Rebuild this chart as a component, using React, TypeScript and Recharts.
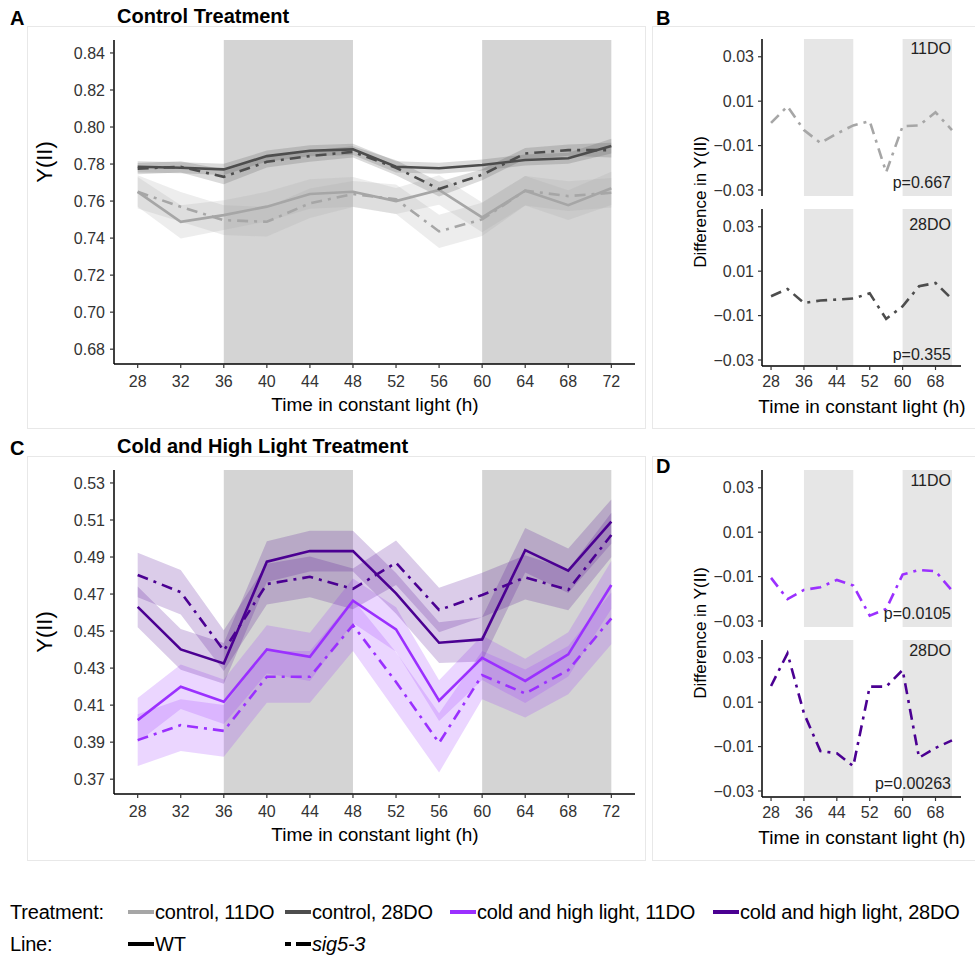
import React from "react";
import { ComposedChart, LineChart, Line, Area, XAxis, YAxis, ReferenceArea } from "recharts";

const hours = [28, 32, 36, 40, 44, 48, 52, 56, 60, 64, 68, 72];
const mainTicksX = [28, 32, 36, 40, 44, 48, 52, 56, 60, 64, 68, 72];
const diffTicksX = [28, 36, 44, 52, 60, 68];
const ctlTicksY = [0.68, 0.7, 0.72, 0.74, 0.76, 0.78, 0.8, 0.82, 0.84];
const coldTicksY = [0.37, 0.39, 0.41, 0.43, 0.45, 0.47, 0.49, 0.51, 0.53];
const diffTicksY = [-0.03, -0.01, 0.01, 0.03];

// control treatment, mean Y(II) and ribbon half-width
const ctl11WT = [0.765, 0.7488, 0.7524, 0.757, 0.7638, 0.765, 0.76, 0.766, 0.7512, 0.7656, 0.7578, 0.7669];
const ctl11WTse = [0.008, 0.009, 0.008, 0.008, 0.008, 0.008, 0.007, 0.008, 0.008, 0.008, 0.008, 0.009];
const ctl11Sig = [0.765, 0.7569, 0.7497, 0.7488, 0.7588, 0.7638, 0.761, 0.7436, 0.7501, 0.7656, 0.7627, 0.7645];
const ctl11SigSe = [0.009, 0.008, 0.008, 0.008, 0.008, 0.007, 0.008, 0.009, 0.009, 0.008, 0.008, 0.008];
const ctl28WT = [0.7785, 0.778, 0.7771, 0.7843, 0.7872, 0.7879, 0.7785, 0.7777, 0.7795, 0.7822, 0.7831, 0.7897];
const ctl28WTse = [0.003, 0.003, 0.003, 0.003, 0.003, 0.003, 0.003, 0.003, 0.003, 0.003, 0.003, 0.004];
const ctl28Sig = [0.7775, 0.7785, 0.7731, 0.7812, 0.7843, 0.7866, 0.778, 0.7665, 0.7742, 0.7857, 0.7875, 0.7875];
const ctl28SigSe = [0.003, 0.003, 0.004, 0.003, 0.003, 0.003, 0.004, 0.004, 0.003, 0.003, 0.003, 0.004];

// cold and high light treatment
const cold11WT = [0.4019, 0.4199, 0.4118, 0.4401, 0.4361, 0.4664, 0.4509, 0.4124, 0.4356, 0.4231, 0.4374, 0.4749];
const cold11WTse = [0.012, 0.012, 0.012, 0.013, 0.013, 0.012, 0.012, 0.011, 0.012, 0.012, 0.012, 0.013];
const cold11Sig = [0.3911, 0.3992, 0.3961, 0.4253, 0.4253, 0.4532, 0.4225, 0.3896, 0.4262, 0.4163, 0.4289, 0.4569];
const cold11SigSe = [0.014, 0.014, 0.014, 0.014, 0.014, 0.014, 0.016, 0.016, 0.013, 0.013, 0.013, 0.014];
const cold28WT = [0.4631, 0.4401, 0.4325, 0.4875, 0.4932, 0.4932, 0.4704, 0.4437, 0.4455, 0.4937, 0.4826, 0.5091];
const cold28WTse = [0.011, 0.011, 0.011, 0.011, 0.011, 0.011, 0.011, 0.011, 0.012, 0.012, 0.012, 0.012];
const cold28Sig = [0.4803, 0.471, 0.4395, 0.4754, 0.4793, 0.4728, 0.4869, 0.4614, 0.4695, 0.479, 0.4722, 0.5019];
const cold28SigSe = [0.012, 0.012, 0.011, 0.011, 0.011, 0.011, 0.012, 0.012, 0.012, 0.012, 0.011, 0.012];

// difference sig5-3 minus WT
const diffCtl11 = [0.0002, 0.0077, -0.003, -0.0088, -0.0046, -0.0009, 0.001, -0.022, -0.0013, -0.0009, 0.005, -0.003];
const diffCtl28 = [-0.0013, 0.002, -0.0043, -0.0032, -0.0028, -0.0023, 0.0, -0.0115, -0.0058, 0.0032, 0.0047, -0.0025];
const diffCold11 = [-0.0106, -0.0201, -0.016, -0.0148, -0.0115, -0.014, -0.0276, -0.0246, -0.0091, -0.007, -0.0076, -0.0163];
const diffCold28 = [0.0173, 0.032, 0.005, -0.012, -0.013, -0.0188, 0.017, 0.017, 0.0245, -0.015, -0.0106, -0.0072];

const C11 = "#a6a6a6";
const C28 = "#4d4d4d";
const P11 = "#9b30ff";
const P28 = "#4b0092";
const DASH = "11 6 3 6";
const FONT = "'Liberation Sans', Arial, sans-serif";

type Series = { mean: number[]; se: number[]; color: string; dash?: string };

const tickStyle = { fontSize: 16, fill: "#333", fontFamily: FONT };

function MainPanel({ top, series, domain, ticks }: { top: number; series: Series[]; domain: [number, number]; ticks: number[] }) {
  const rows = hours.map((h, i) => {
    const r: any = { h };
    series.forEach((s, k) => {
      r["m" + k] = s.mean[i];
      r["r" + k] = [s.mean[i] - s.se[i], s.mean[i] + s.se[i]];
    });
    return r;
  });
  return (
    <div style={{ position: "absolute", left: 0, top }}>
      <ComposedChart width={645} height={400} data={rows} margin={{ top: 40, right: 10, bottom: 0, left: 0 }}>
        <ReferenceArea x1={36} x2={48} fill="#d4d4d4" fillOpacity={1} stroke="none" />
        <ReferenceArea x1={60} x2={72} fill="#d4d4d4" fillOpacity={1} stroke="none" />
        <XAxis
          dataKey="h"
          type="number"
          domain={[25.8, 74.2]}
          ticks={mainTicksX}
          interval={0}
          allowDataOverflow
          height={36}
          tickSize={4}
          tickMargin={8}
          tick={tickStyle}
          axisLine={{ stroke: "#000", strokeWidth: 1.5 }}
          tickLine={{ stroke: "#333", strokeWidth: 1.2 }}
        />
        <YAxis
          type="number"
          domain={domain}
          ticks={ticks}
          interval={0}
          allowDataOverflow
          width={114}
          tickSize={4}
          tickMargin={5}
          tick={tickStyle}
          tickFormatter={(v: number) => v.toFixed(2)}
          axisLine={{ stroke: "#000", strokeWidth: 1.5 }}
          tickLine={{ stroke: "#333", strokeWidth: 1.2 }}
        />
        {series.map((s, k) => (
          <Area
            key={"r" + k}
            dataKey={"r" + k}
            type="linear"
            stroke="none"
            fill={s.color}
            fillOpacity={0.2}
            isAnimationActive={false}
            dot={false}
            activeDot={false}
          />
        ))}
        {series.map((s, k) => (
          <Line
            key={"m" + k}
            dataKey={"m" + k}
            type="linear"
            stroke={s.color}
            strokeWidth={2.6}
            strokeDasharray={s.dash}
            dot={false}
            activeDot={false}
            isAnimationActive={false}
          />
        ))}
      </ComposedChart>
    </div>
  );
}

function DiffPanel({ top, values, color, withAxis }: { top: number; values: number[]; color: string; withAxis: boolean }) {
  const rows = hours.map((h, i) => ({ h, d: values[i] }));
  // plot area is 157px tall; the extra bottom margin keeps the lowest tick label inside the svg
  return (
    <div style={{ position: "absolute", left: 650, top }}>
      <LineChart
        width={312}
        height={withAxis ? 193 : 167}
        data={rows}
        margin={{ top: 0, right: 1, bottom: withAxis ? 0 : 10, left: 0 }}
      >
        <ReferenceArea x1={36} x2={48} fill="#e6e6e6" fillOpacity={1} stroke="none" />
        <ReferenceArea x1={60} x2={72} fill="#e6e6e6" fillOpacity={1} stroke="none" />
        <XAxis
          dataKey="h"
          type="number"
          domain={[25.8, 74.2]}
          ticks={diffTicksX}
          interval={0}
          allowDataOverflow
          hide={!withAxis}
          height={36}
          tickSize={4}
          tickMargin={6}
          tick={tickStyle}
          axisLine={{ stroke: "#000", strokeWidth: 1.5 }}
          tickLine={{ stroke: "#333", strokeWidth: 1.2 }}
        />
        <YAxis
          type="number"
          domain={[-0.0327, 0.038]}
          ticks={diffTicksY}
          interval={0}
          allowDataOverflow
          width={112}
          tickSize={4}
          tickMargin={4}
          tick={tickStyle}
          tickFormatter={(v: number) => (v < 0 ? "\u2212" + Math.abs(v).toFixed(2) : v.toFixed(2))}
          axisLine={{ stroke: "#000", strokeWidth: 1.5 }}
          tickLine={{ stroke: "#333", strokeWidth: 1.2 }}
        />
        <Line
          dataKey="d"
          type="linear"
          stroke={color}
          strokeWidth={2.6}
          strokeDasharray={DASH}
          dot={false}
          activeDot={false}
          isAnimationActive={false}
        />
      </LineChart>
    </div>
  );
}

const txt = (style: React.CSSProperties, text: React.ReactNode, key?: string) => (
  <div key={key} style={{ position: "absolute", whiteSpace: "nowrap", ...style }}>{text}</div>
);

function Swatch({ color, dashed }: { color: string; dashed?: boolean }) {
  return (
    <svg width={28} height={8} style={{ display: "block" }}>
      <line x1={1} y1={4} x2={27} y2={4} stroke={color} strokeWidth={4} strokeDasharray={dashed ? "6 5 12 0" : undefined} />
    </svg>
  );
}

export default function App() {
  const ctlSeries: Series[] = [
    { mean: ctl11WT, se: ctl11WTse, color: C11 },
    { mean: ctl11Sig, se: ctl11SigSe, color: C11, dash: DASH },
    { mean: ctl28WT, se: ctl28WTse, color: C28 },
    { mean: ctl28Sig, se: ctl28SigSe, color: C28, dash: DASH },
  ];
  const coldSeries: Series[] = [
    { mean: cold11WT, se: cold11WTse, color: P11 },
    { mean: cold11Sig, se: cold11SigSe, color: P11, dash: DASH },
    { mean: cold28WT, se: cold28WTse, color: P28 },
    { mean: cold28Sig, se: cold28SigSe, color: P28, dash: DASH },
  ];
  const frame = "1px solid #e8e8e8";
  const bold = { fontWeight: 700, fontSize: 20, lineHeight: "20px" };
  const axisTitle = { fontSize: 19, lineHeight: "20px", color: "#000" };
  const small = { fontSize: 16, lineHeight: "16px", color: "#222" };
  const legendRow = { position: "absolute" as const, left: 10, display: "flex", alignItems: "center", fontSize: 20, lineHeight: "20px", letterSpacing: "-0.2px" };
  return (
    <div style={{ position: "absolute", left: 0, top: 0, width: 975, height: 961, background: "#fff", fontFamily: FONT, color: "#000", overflow: "hidden" }}>
      <div style={{ position: "absolute", left: 27, top: 26, width: 617, height: 401, border: frame }} />
      <div style={{ position: "absolute", left: 27, top: 456, width: 617, height: 403, border: frame }} />
      <div style={{ position: "absolute", left: 652, top: 26, width: 330, height: 401, border: frame }} />
      <div style={{ position: "absolute", left: 652, top: 456, width: 330, height: 403, border: frame }} />

      <MainPanel top={0} series={ctlSeries} domain={[0.672, 0.847]} ticks={ctlTicksY} />
      <MainPanel top={430} series={coldSeries} domain={[0.362, 0.537]} ticks={coldTicksY} />
      <DiffPanel top={39} values={diffCtl11} color={C11} withAxis={false} />
      <DiffPanel top={209} values={diffCtl28} color={C28} withAxis />
      <DiffPanel top={470} values={diffCold11} color={P11} withAxis={false} />
      <DiffPanel top={640} values={diffCold28} color={P28} withAxis />

      {txt({ left: 10, top: 8, ...bold }, "A")}
      {txt({ left: 117, top: 6, ...bold }, "Control Treatment")}
      {txt({ left: 656, top: 8, ...bold }, "B")}
      {txt({ left: 10, top: 438, ...bold }, "C")}
      {txt({ left: 117, top: 436, ...bold }, "Cold and High Light Treatment")}
      {txt({ left: 656, top: 456, ...bold }, "D")}

      {txt({ left: 45, top: 162, transform: "translate(-50%, -50%) rotate(-90deg)", fontSize: 22, lineHeight: "22px" }, "Y(II)")}
      {txt({ left: 45, top: 632, transform: "translate(-50%, -50%) rotate(-90deg)", fontSize: 22, lineHeight: "22px" }, "Y(II)")}
      {txt({ left: 375, top: 395, transform: "translateX(-50%)", ...axisTitle }, "Time in constant light (h)")}
      {txt({ left: 375, top: 825, transform: "translateX(-50%)", ...axisTitle }, "Time in constant light (h)")}
      {txt({ left: 700, top: 202, transform: "translate(-50%, -50%) rotate(-90deg)", fontSize: 17, lineHeight: "17px" }, "Difference in Y(II)")}
      {txt({ left: 700, top: 633, transform: "translate(-50%, -50%) rotate(-90deg)", fontSize: 17, lineHeight: "17px" }, "Difference in Y(II)")}
      {txt({ left: 862, top: 397, transform: "translateX(-50%)", ...axisTitle }, "Time in constant light (h)")}
      {txt({ left: 862, top: 828, transform: "translateX(-50%)", ...axisTitle }, "Time in constant light (h)")}

      {txt({ right: 24, top: 41, ...small }, "11DO")}
      {txt({ right: 24, top: 175, ...small }, "p=0.667")}
      {txt({ right: 24, top: 217, ...small }, "28DO")}
      {txt({ right: 24, top: 347, ...small }, "p=0.355")}
      {txt({ right: 24, top: 473, ...small }, "11DO")}
      {txt({ right: 24, top: 606, ...small }, "p=0.0105")}
      {txt({ right: 24, top: 643, ...small }, "28DO")}
      {txt({ right: 24, top: 776, ...small }, "p=0.00263")}

      <div style={{ ...legendRow, top: 902 }}>
        <span style={{ width: 117 }}>Treatment:</span>
        <Swatch color={C11} />
        <span style={{ width: 129 }}>control, 11DO</span>
        <Swatch color={C28} />
        <span style={{ width: 137 }}>control, 28DO</span>
        <Swatch color={P11} />
        <span style={{ width: 235 }}>cold and high light, 11DO</span>
        <Swatch color={P28} />
        <span>cold and high light, 28DO</span>
      </div>
      <div style={{ ...legendRow, top: 934 }}>
        <span style={{ width: 117 }}>Line:</span>
        <Swatch color="#000" />
        <span style={{ width: 129 }}>WT</span>
        <Swatch color="#000" dashed />
        <span style={{ fontStyle: "italic" }}>sig5-3</span>
      </div>
    </div>
  );
}
